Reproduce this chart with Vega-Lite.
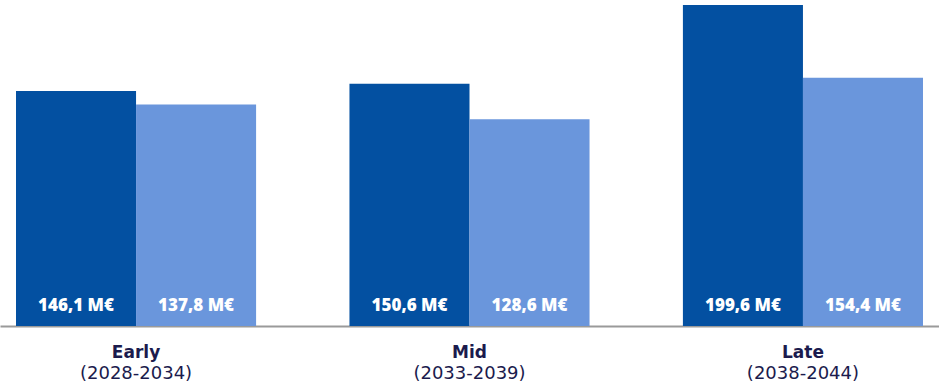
{
  "$schema": "https://vega.github.io/schema/vega-lite/v6.json",
  "width": 939,
  "height": 326,
  "autosize": {"type": "none"},
  "padding": {"left": 0, "top": 0, "right": 0, "bottom": 59},
  "background": "white",
  "config": {
    "view": {"stroke": null},
    "font": "Open Sans",
    "locale": {
      "number": {"decimal": ",", "thousands": ".", "grouping": [3], "currency": ["", " M€"]}
    }
  },
  "data": {
    "values": [
      {"phase": "Early", "series": "A", "value": 146.1},
      {"phase": "Early", "series": "B", "value": 137.8},
      {"phase": "Mid", "series": "A", "value": 150.6},
      {"phase": "Mid", "series": "B", "value": 128.6},
      {"phase": "Late", "series": "A", "value": 199.6},
      {"phase": "Late", "series": "B", "value": 154.4}
    ]
  },
  "encoding": {
    "x": {
      "field": "phase",
      "type": "nominal",
      "sort": ["Early", "Mid", "Late"],
      "scale": {"paddingInner": 0.28, "paddingOuter": 0.048}
    },
    "xOffset": {"field": "series", "type": "nominal", "scale": {"paddingInner": 0, "paddingOuter": 0}}
  },
  "layer": [
    {
      "mark": {"type": "bar"},
      "encoding": {
        "x": {
          "field": "phase",
          "type": "nominal",
          "sort": ["Early", "Mid", "Late"],
          "axis": {
            "orient": "bottom",
            "title": null,
            "ticks": false,
            "domain": true,
            "domainColor": "#9a9a9a",
            "domainWidth": 2,
            "labelAngle": 0,
            "labelFont": "DejaVu Sans",
            "labelFontSize": 17,
            "labelFontWeight": "bold",
            "labelColor": "#1b1b4d",
            "labelPadding": 18
          }
        },
        "y": {
          "field": "value",
          "type": "quantitative",
          "scale": {"domain": [0, 202.7], "nice": false},
          "axis": null
        },
        "color": {
          "field": "series",
          "type": "nominal",
          "scale": {"domain": ["A", "B"], "range": ["#0350a1", "#6a96dc"]},
          "legend": null
        }
      }
    },
    {
      "mark": {
        "type": "text",
        "color": "white",
        "fontWeight": 800,
        "fontSize": 17,
        "baseline": "middle",
        "dy": -20
      },
      "encoding": {
        "x": {
          "field": "phase",
          "type": "nominal",
          "sort": ["Early", "Mid", "Late"],
          "axis": {
            "orient": "bottom",
            "title": null,
            "ticks": false,
            "domain": false,
            "labelAngle": 0,
            "labelFont": "DejaVu Sans",
            "labelFontSize": 18,
            "labelColor": "#1b1b4d",
            "labelPadding": 38,
            "labelExpr": "datum.value == 'Early' ? '(2028-2034)' : datum.value == 'Mid' ? '(2033-2039)' : '(2038-2044)'"
          }
        },
        "y": {"datum": 0, "type": "quantitative"},
        "text": {"field": "value", "type": "quantitative", "format": "$.1f"}
      }
    }
  ],
  "resolve": {"axis": {"x": "independent"}}
}
